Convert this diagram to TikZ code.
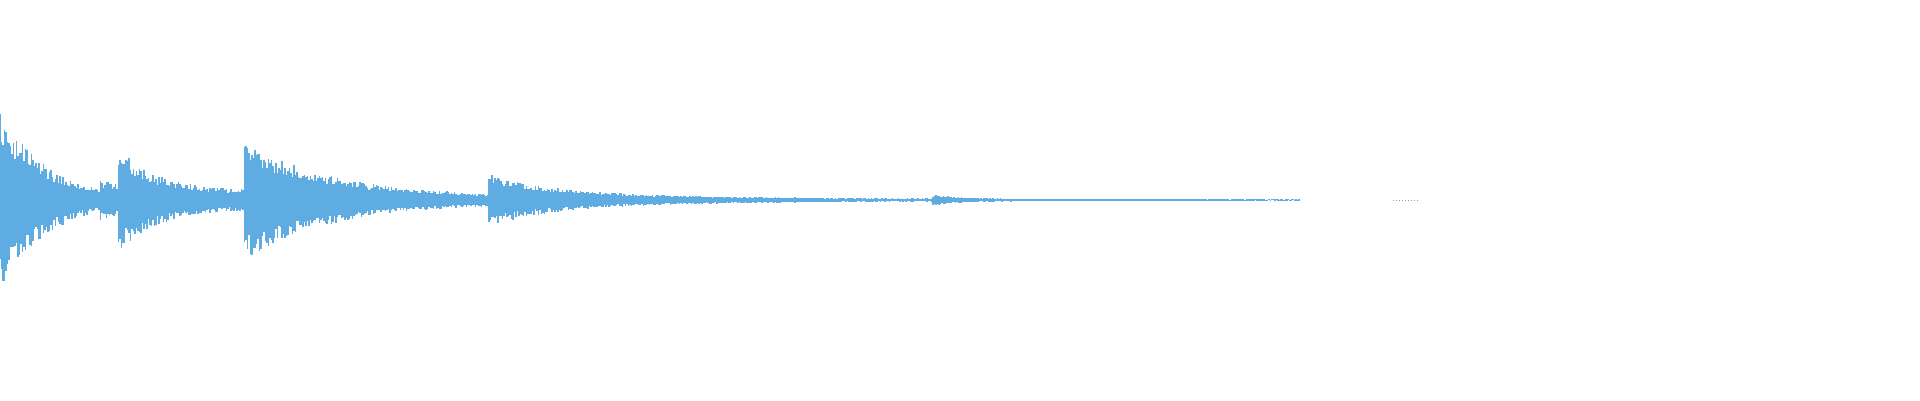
\documentclass[tikz,border=0pt]{standalone}
\usepackage{tikz}
\definecolor{wave}{RGB}{94,172,226}
\begin{document}
\begin{tikzpicture}[x=1pt,y=-1pt,wavebar/.style={draw=wave,line width=1.1pt}]
	\useasboundingbox (0,0) rectangle (1920,400);
	\pgfmathsetseed{7}
	% envelope of the five hits
	\foreach \x in {0,1.5,...,1300}{
		\pgfmathsetmacro{\env}{90*exp(-\x/48)
			+ and(\x>=118,\x<244)*(38*exp(-max(0,\x-118)/35)+9)
			+ and(\x>=100,\x<118)*9
			+ (\x>=244)*(48*exp(-max(0,\x-244)/80)+12*exp(-max(0,\x-244)/200))
			+ (\x>=489)*(16*exp(-max(0,\x-489)/60)+4*exp(-max(0,\x-489)/250))
			+ (\x>=933)*(4*exp(-max(0,\x-933)/30)) + 0.5}
		\pgfmathsetmacro{\up}{\env*(0.6+0.4*rnd)}
		\pgfmathsetmacro{\dn}{\env*(0.6+0.4*rnd)}
		\draw[wavebar] (\x,200-\up) -- (\x,200+\dn);
	}
	\draw[wave,line width=0.6pt,dash pattern=on 1pt off 2pt] (1393,200) -- (1420,200);
\end{tikzpicture}
\end{document}
